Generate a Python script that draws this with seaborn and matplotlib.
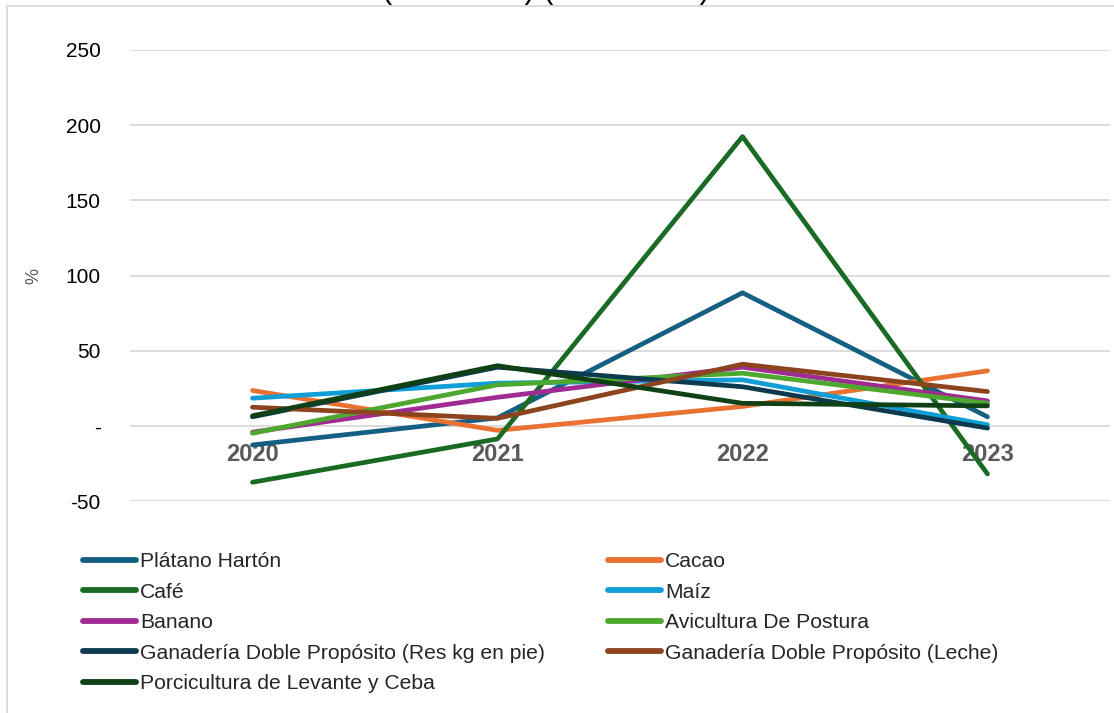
import pandas as pd
import seaborn as sb
import matplotlib.pyplot as plt
from matplotlib.ticker import FuncFormatter

years = ['2020', '2021', '2022', '2023']
series = ['Plátano Hartón', 'Cacao', 'Café', 'Maíz', 'Banano',
          'Avicultura De Postura', 'Ganadería Doble Propósito (Res kg en pie)',
          'Ganadería Doble Propósito (Leche)', 'Porcicultura de Levante y Ceba']

platano = [-12.7, 5.3, 88.5, 6.0]
cacao = [23.5, -3.0, 12.9, 36.6]
cafe = [-37.5, -8.7, 192.4, -32.0]
maiz = [18.4, 28.4, 30.6, 0.7]
banano = [-4.2, 19.0, 39.0, 16.6]
avicultura = [-4.9, 27.3, 35.0, 15.0]
ganaderia_res = [6.0, 39.0, 26.0, -1.5]
ganaderia_leche = [12.4, 5.0, 41.0, 22.8]
porcicultura = [6.7, 40.0, 15.0, 13.3]

colores = ['#156082', '#E97132', '#196B24', '#0F9ED5', '#A02B93',
           '#4EA72E', '#0D3A4F', '#8C441E', '#0F4016']

valores = [platano, cacao, cafe, maiz, banano, avicultura,
           ganaderia_res, ganaderia_leche, porcicultura]

filas = []
for nombre, vals in zip(series, valores):
    for anio, v in zip(years, vals):
        filas.append({'Año': anio, 'Valor': v, 'Serie': nombre})
df = pd.DataFrame(filas)

sb.set_style('white')
plt.rcParams['font.family'] = ['Liberation Sans', 'DejaVu Sans']

fig = plt.figure(figsize=(11.14, 7.13), dpi=100)
ax = fig.add_axes([0.1167, 0.2973, 0.8797, 0.6326])

sb.lineplot(data=df, x='Año', y='Valor', hue='Serie', hue_order=series,
            palette=colores, linewidth=3.4, solid_capstyle='round', ax=ax,
            legend=True)

ax.set_xlim(-0.5, 3.5)
ax.set_ylim(-50, 250)
ax.set_yticks([-50, 0, 50, 100, 150, 200, 250])
ax.yaxis.set_major_formatter(FuncFormatter(lambda v, p: '-' if v == 0 else f'{v:.0f}'))
ax.grid(axis='y', color='#D9D9D9', linewidth=1.3)
ax.grid(axis='x', visible=False)
for s in ['top', 'right', 'left']:
    ax.spines[s].set_visible(False)
ax.spines['bottom'].set_position(('data', 0))
ax.spines['bottom'].set_visible(False)
ax.tick_params(axis='y', length=0, pad=21, labelsize=15, labelcolor='#000000')
ax.tick_params(axis='x', length=0, pad=12, labelsize=17, labelcolor='#595959')
for t in ax.get_xticklabels():
    t.set_fontweight('bold')
ax.set_xlabel('')
ax.set_ylabel('%', fontsize=13, color='#595959', labelpad=17)

handles, labels = ax.get_legend_handles_labels()
ax.get_legend().remove()
orden = list(range(0, 9, 2)) + list(range(1, 9, 2))
leg = fig.legend([handles[i] for i in orden], [labels[i] for i in orden],
                 loc='upper left', bbox_to_anchor=(0.067, 0.237), ncol=2,
                 frameon=False, fontsize=15.2, handlelength=2.5,
                 handletextpad=0.2, columnspacing=3.0, labelspacing=0.54,
                 borderaxespad=0)
for l in leg.get_lines():
    l.set_linewidth(4.2)
    l.set_solid_capstyle('round')

# borde del área del gráfico
fig.add_artist(plt.Line2D([7 / 1114, 7 / 1114], [0, 1 - 6 / 713], color='#D9D9D9',
                          linewidth=1.3, transform=fig.transFigure))
fig.add_artist(plt.Line2D([7 / 1114, 1], [1 - 6 / 713, 1 - 6 / 713], color='#D9D9D9',
                          linewidth=1.3, transform=fig.transFigure))

# título recortado en la parte superior
fig.text(0.49, 1 - 5 / 713, '(Casanare) (2019-2023)', ha='center', va='bottom',
         fontsize=22, color='#000000')

fig.savefig('out.png', dpi=100)
